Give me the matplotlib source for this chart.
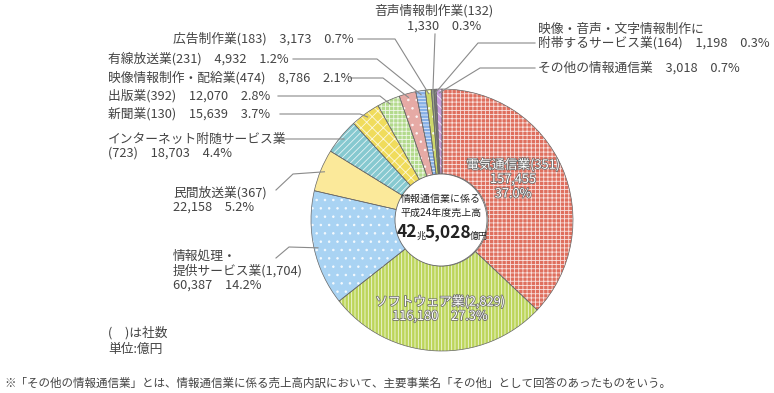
"""Donut chart: 情報通信業の売上高内訳（平成24年度）."""

import numpy as np
import matplotlib
matplotlib.use("Agg")
import matplotlib.pyplot as plt
from matplotlib.patches import Wedge, Circle
import matplotlib.patheffects as pe

plt.rcParams['font.family'] = ['Noto Sans CJK JP', 'DejaVu Sans']
plt.rcParams['hatch.linewidth'] = 0.6

# data (clockwise from 12 o'clock)
names = ["電気通信業", "ソフトウェア業", "情報処理・提供サービス業", "民間放送業",
         "インターネット附随サービス業", "新聞業", "出版業", "映像情報制作・配給業",
         "有線放送業", "広告制作業", "音声情報制作業",
         "映像・音声・文字情報制作に附帯するサービス業", "その他の情報通信業"]
companies = [351, 2829, 1704, 367, 723, 130, 392, 474, 231, 183, 132, 164, None]
sales = [157455, 116180, 60387, 22158, 18703, 15639, 12070, 8786, 4932, 3173,
         1330, 1198, 3018]
shares = [37.0, 27.3, 14.2, 5.2, 4.4, 3.7, 2.8, 2.1, 1.2, 0.7, 0.3, 0.3, 0.7]
total_cho, total_oku = 42, 5028

colors = ["#df6f5e", "#bcd55a", "#a9d3f3", "#fbe99a", "#86c9d0", "#f0dc5c",
          "#b3da8c", "#e6aaa5", "#86afe6", "#cdd86a", "#9ea88a", "#7a7a7a",
          "#c99ddc"]
hatches = ["++++", "|||||", "..", None, "/////", "xxx", "++++", "..", "-----",
           "..", None, None, "\\\\\\\\"]

W, H = 774, 393
CX, CY, R, R_IN = 442, 220, 131, 46
TXT = "#444444"
LINE = "#8a8a8a"
FS = 9.2


def Y(y):
    return H - y


def fmt(i):
    return f"{sales[i]:,}"


# outside labels: index -> (lines, x, y of first line, path points from text)
outside = {
    9: ([f"{names[9]}({companies[9]})　{fmt(9)}　{shares[9]}%"], 173, 39,
        [(358, 39), (395, 39)]),
    8: ([f"{names[8]}({companies[8]})　{fmt(8)}　{shares[8]}%"], 108, 59,
        [(293, 59), (377, 59)]),
    7: ([f"{names[7]}({companies[7]})　{fmt(7)}　{shares[7]}%"], 108, 78,
        [(350, 78), (383, 78)]),
    6: ([f"{names[6]}({companies[6]})　{fmt(6)}　{shares[6]}%"], 108, 96,
        [(278, 96), (380, 96)]),
    5: ([f"{names[5]}({companies[5]})　{fmt(5)}　{shares[5]}%"], 108, 114,
        [(280, 114), (360, 114)]),
    4: (["インターネット附随サービス業", f"({companies[4]})　{fmt(4)}　{shares[4]}%"],
        108, 139, [(282, 139)]),
    3: ([f"{names[3]}({companies[3]})", f"{fmt(3)}　{shares[3]}%"], 173, 193,
        [(276, 190), (293, 174)]),
    2: (["情報処理・", f"提供サービス業({companies[2]:,})", f"{fmt(2)}　{shares[2]}%"],
        173, 256, [(276, 258), (289, 247)]),
}

fig = plt.figure(figsize=(W / 100, H / 100), dpi=100)
ax = fig.add_axes([0, 0, 1, 1])

wedges, _ = ax.pie(sales, colors=colors, startangle=90, counterclock=False,
                   center=(CX, Y(CY)), radius=R, frame=True,
                   wedgeprops=dict(width=R - R_IN, linewidth=0))
ax.set_xlim(0, W)
ax.set_ylim(0, H)
ax.axis("off")

for w, h in zip(wedges, hatches):
    if h:
        ax.add_patch(Wedge(w.center, w.r, w.theta1, w.theta2, width=w.width,
                           fill=False, hatch=h, edgecolor="#ffffffcc",
                           linewidth=0))
    ax.add_patch(Wedge(w.center, w.r, w.theta1, w.theta2, width=w.width,
                       fill=False, edgecolor="#666666", linewidth=0.5))

ax.add_patch(Circle((CX - 1, Y(CY)), R_IN, facecolor="white",
                    edgecolor="#666666", linewidth=0.6, zorder=5))


def anchor(i, f=0.97):
    w = wedges[i]
    a = np.deg2rad((w.theta1 + w.theta2) / 2)
    return (CX + R * f * np.cos(a), Y(CY) + R * f * np.sin(a))


for i, (lines, x, y, pts) in outside.items():
    for k, s in enumerate(lines):
        ax.text(x, Y(y + k * 14.5), s, fontsize=FS, color=TXT, ha="left",
                va="center")
    ax_pts = [(px, Y(py)) for px, py in pts] + [anchor(i)]
    xs, ys = zip(*ax_pts)
    ax.plot(xs, ys, color=LINE, lw=0.8)

# top labels
ax.text(493, Y(11), f"{names[10]}({companies[10]})", fontsize=FS, color=TXT,
        ha="right", va="center")
ax.text(407, Y(26), f"{fmt(10)}　{shares[10]}%", fontsize=FS, color=TXT,
        ha="left", va="center")
xs, ys = zip(*[(435, Y(34)), anchor(10)])
ax.plot(xs, ys, color=LINE, lw=0.8)

ax.text(538, Y(29), "映像・音声・文字情報制作に", fontsize=FS, color=TXT,
        ha="left", va="center")
ax.text(538, Y(43), f"附帯するサービス業({companies[11]})　{fmt(11)}　{shares[11]}%",
        fontsize=FS, color=TXT, ha="left", va="center")
xs, ys = zip(*[(535, Y(43)), (478, Y(43)), anchor(11)])
ax.plot(xs, ys, color=LINE, lw=0.8)

ax.text(538, Y(68), f"{names[12]}　{fmt(12)}　{shares[12]}%", fontsize=FS,
        color=TXT, ha="left", va="center")
xs, ys = zip(*[(535, Y(68)), (480, Y(68)), anchor(12)])
ax.plot(xs, ys, color=LINE, lw=0.8)

# inside labels (white with dark outline)
stroke = [pe.withStroke(linewidth=1.1, foreground="#6a6a6a")]
for k, s in enumerate([f"{names[0]}({companies[0]})", fmt(0), f"{shares[0]}%"]):
    ax.text(513, Y(165 + k * 14.5), s, fontsize=FS, color="white", ha="center",
            va="center", path_effects=stroke)
for k, s in enumerate([f"{names[1]}({companies[1]:,})",
                       f"{fmt(1)}　{shares[1]}%"]):
    ax.text(440, Y(302 + k * 14.5), s, fontsize=FS, color="white", ha="center",
            va="center", path_effects=stroke)

# centre total
ax.text(441, Y(199), "情報通信業に係る", fontsize=7.2, color="#222222",
        ha="center", va="center", zorder=6)
ax.text(441, Y(213), "平成24年度売上高", fontsize=7.2, color="#222222",
        ha="center", va="center", zorder=6)
t = ax.text(397, Y(237), f"{total_cho}", fontsize=12.5, fontweight="bold",
            color="#222222", ha="left", va="baseline", zorder=6)
for s, size, bold in [("兆", 6.5, False), (f"{total_oku:,}", 12.5, True),
                      ("億円", 6.5, False)]:
    t = ax.annotate(s, xy=(1, 0), xycoords=t, xytext=(-0.8, 0),
                    textcoords="offset points", fontsize=size,
                    fontweight="bold" if bold else "normal", color="#222222",
                    ha="left", va="bottom", zorder=6)

# notes
ax.text(108, Y(333), "(　)は社数", fontsize=FS, color=TXT, ha="left", va="center")
ax.text(108, Y(349), "単位:億円", fontsize=FS, color=TXT, ha="left", va="center")
ax.text(4, Y(383), "※「その他の情報通信業」とは、情報通信業に係る売上高内訳において、"
        "主要事業名「その他」として回答のあったものをいう。", fontsize=8.3,
        color=TXT, ha="left", va="center")

fig.savefig("out.png", dpi=100)
